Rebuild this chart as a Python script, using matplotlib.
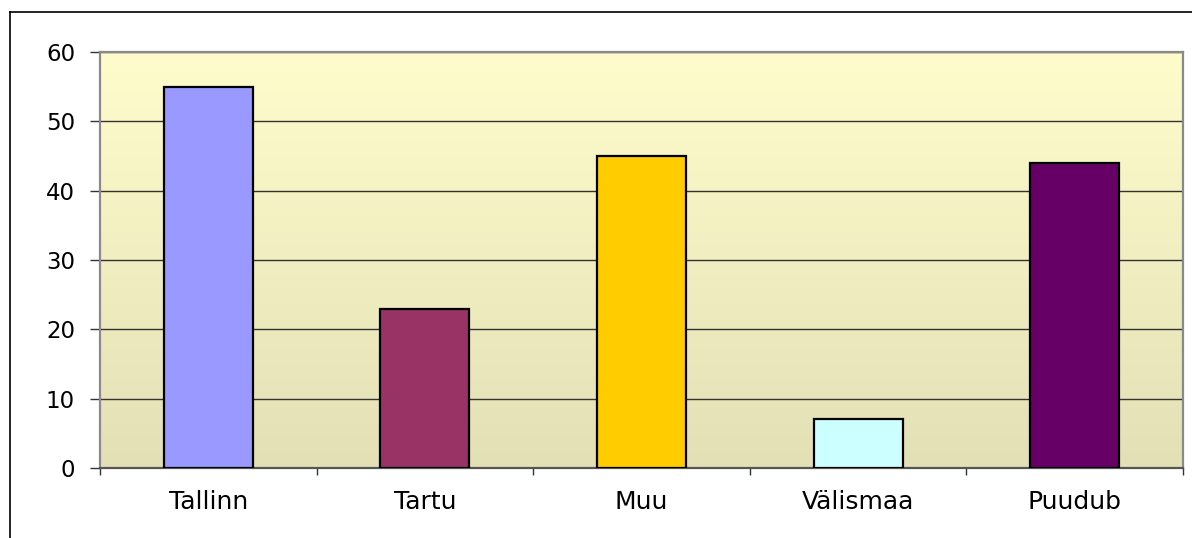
import numpy as np
import matplotlib
matplotlib.use("Agg")
import matplotlib.pyplot as plt
from matplotlib.colors import LinearSegmentedColormap
from matplotlib.lines import Line2D

categories = ["Tallinn", "Tartu", "Muu", "Välismaa", "Puudub"]
values = [55, 23, 45, 7, 44]
bar_colors = ["#9999FF", "#993366", "#FFCC00", "#CCFFFF", "#660066"]
yticks = [0, 10, 20, 30, 40, 50, 60]

plt.rcParams['font.family'] = ['DejaVu Sans']

W, H = 1192, 538
fig = plt.figure(figsize=(W / 100, H / 100), dpi=100)
ax = fig.add_axes([100 / W, 1 - 468 / H, (1183 - 100) / W, (468 - 52) / H])

# gradient background
cmap = LinearSegmentedColormap.from_list("bg", ["#E3E0B6", "#FFFCCC"])
grad = np.linspace(0, 1, 256).reshape(-1, 1)
ax.imshow(grad, cmap=cmap, aspect="auto", extent=(0, 1, 0, 1),
          transform=ax.transAxes, origin="lower", zorder=0)

x = np.arange(len(categories))
ax.bar(x, values, width=0.41, color=bar_colors, edgecolor="black",
       linewidth=1.6, zorder=3)

ax.set_xlim(-0.5, len(categories) - 0.5)
ax.set_ylim(0, 60)
ax.set_yticks(yticks)
ax.set_yticklabels([str(v) for v in yticks], fontsize=16.5)
ax.set_xticks(x)
ax.set_xticklabels(categories, fontsize=18)
ax.set_xticks(np.arange(-0.5, len(categories)), minor=True)

ax.yaxis.grid(True, color="#333333", linewidth=1.0, zorder=1)
ax.set_axisbelow(True)

ax.tick_params(axis="x", which="major", length=0, pad=16)
ax.tick_params(axis="x", which="minor", length=5, width=1, color="#333333")
ax.tick_params(axis="y", length=7, width=1, color="#333333", pad=11)

for side in ["top", "right", "left"]:
    ax.spines[side].set_color("#8a8a8a")
    ax.spines[side].set_linewidth(1.6)
ax.spines["bottom"].set_color("#555555")
ax.spines["bottom"].set_linewidth(1.6)

# outer frame (left and top edges)
fx = 10 / W
fy = 1 - 12 / H
fig.add_artist(Line2D([fx, fx], [0, fy], transform=fig.transFigure,
                      color="black", linewidth=1.2))
fig.add_artist(Line2D([fx, 1], [fy, fy], transform=fig.transFigure,
                      color="black", linewidth=1.2))

fig.savefig("out.png", dpi=100)
